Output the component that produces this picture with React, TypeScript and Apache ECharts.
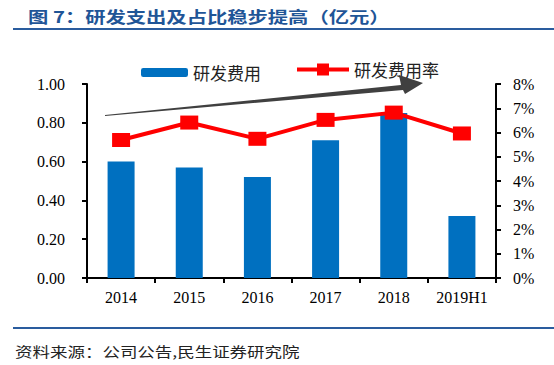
import React, { useEffect, useRef } from "react";
import * as echarts from "echarts";

const categories = ["2014", "2015", "2016", "2017", "2018", "2019H1"];
const rdExpense = [0.6, 0.57, 0.52, 0.71, 0.85, 0.32];
const rdRatio = [5.69, 6.41, 5.74, 6.52, 6.82, 5.96];
const leftTicks = { min: 0, max: 1, interval: 0.2 };
const rightTicks = { min: 0, max: 8, interval: 1 };

const serif = "'Liberation Serif', 'Times New Roman', serif";
const cjk = "'Noto Sans CJK SC', sans-serif";

export default function App() {
  const ref = useRef<HTMLDivElement>(null);
  useEffect(() => {
    if (!ref.current) return;
    const chart = echarts.init(ref.current, undefined, { renderer: "svg" });
    chart.setOption({
      animation: false,
      backgroundColor: "#ffffff",
      legend: [
        {
          data: ["研发费用"],
          left: 136,
          top: 59,
          itemWidth: 47,
          itemHeight: 9,
          itemGap: 8,
          textStyle: { fontFamily: cjk, fontSize: 17, color: "#222" },
        },
        {
          data: ["研发费用率"],
          left: 290,
          top: 56,
          itemWidth: 52,
          itemHeight: 15,
          itemGap: 6,
          lineStyle: { width: 4, color: "#FF0000" },
          textStyle: { fontFamily: cjk, fontSize: 17, color: "#222" },
        },
      ],
      grid: { left: 87, right: 58, top: 84, bottom: 87, containLabel: false },
      xAxis: {
        type: "category",
        data: categories,
        axisLine: { lineStyle: { color: "#000", width: 2 } },
        axisTick: { show: true, length: 5, lineStyle: { color: "#000", width: 2 } },
        axisLabel: { fontFamily: serif, fontSize: 16, color: "#000", margin: 11 },
      },
      yAxis: [
        {
          type: "value",
          ...leftTicks,
          splitLine: { show: false },
          axisLine: { show: true, lineStyle: { color: "#000", width: 2 } },
          axisTick: { show: true, length: 5, lineStyle: { color: "#000", width: 2 } },
          axisLabel: {
            fontFamily: serif,
            fontSize: 16,
            color: "#000",
            margin: 22,
            formatter: (v: number) => v.toFixed(2),
          },
        },
        {
          type: "value",
          ...rightTicks,
          position: "right",
          splitLine: { show: false },
          axisLine: { show: true, lineStyle: { color: "#000", width: 2 } },
          axisTick: { show: true, length: 5, lineStyle: { color: "#000", width: 2 } },
          axisLabel: {
            fontFamily: serif,
            fontSize: 16,
            color: "#000",
            margin: 17,
            formatter: "{value}%",
          },
        },
      ],
      series: [
        {
          name: "研发费用",
          type: "bar",
          data: rdExpense,
          yAxisIndex: 0,
          barWidth: 27,
          itemStyle: { color: "#0070C0" },
        },
        {
          name: "研发费用率",
          type: "line",
          data: rdRatio,
          yAxisIndex: 1,
          symbol: "rect",
          symbolSize: [18, 14],
          lineStyle: { color: "#FF0000", width: 4 },
          itemStyle: { color: "#FF0000" },
          z: 5,
        },
      ],
      graphic: [
        {
          type: "text",
          x: 28,
          y: 8,
          scaleX: 1.27,
          style: {
            text: "图 7：研发支出及占比稳步提高（亿元）",
            font: "bold 16px 'Noto Sans CJK SC', sans-serif",
            fill: "#1F5597",
          },
        },
        {
          type: "line",
          shape: { x1: 13, y1: 29, x2: 554, y2: 29 },
          style: { stroke: "#2A5C9E", lineWidth: 2 },
        },
        {
          type: "polygon",
          shape: {
            points: [
              [105, 115],
              [401, 85],
              [399, 75],
              [423, 83],
              [405, 94],
              [403, 90],
              [105, 116],
            ],
          },
          style: { fill: "#404040" },
          z: 10,
        },
        {
          type: "line",
          shape: { x1: 13, y1: 328, x2: 554, y2: 328 },
          style: { stroke: "#2A5C9E", lineWidth: 2 },
        },
        {
          type: "text",
          x: 15,
          y: 344,
          scaleX: 1.25,
          style: {
            text: "资料来源：公司公告,民生证券研究院",
            font: "14px 'Noto Sans CJK SC', sans-serif",
            fill: "#222",
          },
        },
      ],
    });
    return () => chart.dispose();
  }, []);
  return <div ref={ref} style={{ width: 554, height: 365, position: "absolute", left: 0, top: 0 }} />;
}
